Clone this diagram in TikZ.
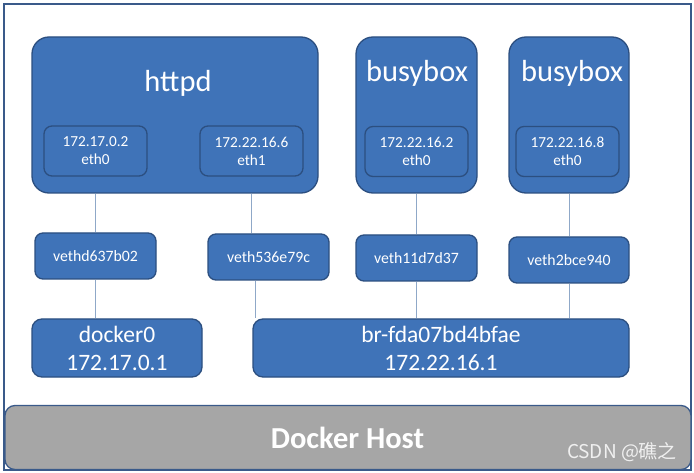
\documentclass[tikz,border=0pt]{standalone}
\usepackage{fontspec}
\setmainfont{Carlito}
\newfontfamily\cjkfont{Noto Sans CJK SC}
\definecolor{boxfill}{HTML}{3F73B8}
\definecolor{boxedge}{HTML}{2C4F80}
\definecolor{linkc}{HTML}{8FA8C8}
\definecolor{hostfill}{HTML}{A6A6A6}
\definecolor{frameblue}{HTML}{3A5A8A}
\tikzset{
  box/.style={draw=boxedge, fill=boxfill, line width=1.3pt, inner sep=0pt, text=white},
  bigbox/.style={box, rounded corners=17pt},
  inbox/.style={box, rounded corners=8pt, align=center, font=\fontsize{15.3}{18}\selectfont, minimum width=103pt, minimum height=50pt},
  vethbox/.style={box, rounded corners=8pt, font=\fontsize{15.8}{18}\selectfont, minimum width=121pt, minimum height=46pt},
  bridgebox/.style={box, rounded corners=10pt, align=center, font=\fontsize{23.5}{28}\selectfont, minimum height=58pt},
  title/.style={text=white, font=\fontsize{30.5}{34}\selectfont, inner sep=0pt},
  link/.style={draw=linkc, line width=1pt},
}
\begin{document}
\begin{tikzpicture}[x=1pt,y=-1pt]
\useasboundingbox (0,0) rectangle (694,473);
\fill[white] (0,0) rectangle (694,473);
% outer frame
\draw[frameblue, line width=2pt] (4,4) rectangle (691,470);
% docker host bar
\node[draw=frameblue, fill=hostfill, line width=1.3pt, rounded corners=10pt, minimum width=686pt, minimum height=64pt, inner sep=0pt] (host) at (348,437.5) {};
\node[text=white, font=\fontsize{30.5}{34}\selectfont\bfseries, inner sep=0pt] (hostlbl) at (347.5,438) {Docker Host};
\node[text=white!88!gray, font=\cjkfont\fontsize{19}{22}\selectfont, inner sep=0pt] (wm) at (622,452) {CSDN @礁之};
% containers
\node[bigbox, minimum width=286pt, minimum height=156pt] (httpd) at (175,115) {};
\node[title] (httpdlbl) at (178,83) {httpd};
\node[inbox] (h0) at (95.5,151) {172.17.0.2\\eth0};
\node[inbox] (h1) at (251.5,151) {172.22.16.6\\eth1};
\node[bigbox, minimum width=121pt, minimum height=156pt] (bb1) at (416.5,115) {};
\node[title] (bb1lbl) at (417,73) {busybox};
\node[inbox] (b1e) at (416.5,151.5) {172.22.16.2\\eth0};
\node[bigbox, minimum width=120pt, minimum height=156pt] (bb2) at (569,115) {};
\node[title] (bb2lbl) at (572,73) {busybox};
\node[inbox] (b2e) at (567.5,151.5) {172.22.16.8\\eth0};
% veth
\node[vethbox] (v1) at (95.5,256) {vethd637b02};
\node[vethbox] (v2) at (268.5,257) {veth536e79c};
\node[vethbox] (v3) at (416.5,258) {veth11d7d37};
\node[vethbox, minimum width=120pt] (v4) at (569,260) {veth2bce940};
% bridges
\node[bridgebox, minimum width=170pt] (d0) at (117,348) {docker0\\172.17.0.1};
\node[bridgebox, minimum width=376pt] (br) at (441,348) {br-fda07bd4bfae\\172.22.16.1};
% links
\draw[link] (httpd.south -| h0) -- (v1.north);
\draw[link] (httpd.south -| h1) -- (h1 |- v2.north);
\draw[link] (bb1.south) -- (v3.north);
\draw[link] (bb2.south) -- (v4.north);
\draw[link] (v1.south) -- (v1 |- d0.north);
\draw[link] ([xshift=3pt]v2.south -| br.west) -- ([xshift=3pt]br.north west);
\draw[link] (v3.south) -- (v3 |- br.north);
\draw[link] (v4.south) -- (v4 |- br.north);
\end{tikzpicture}
\end{document}
